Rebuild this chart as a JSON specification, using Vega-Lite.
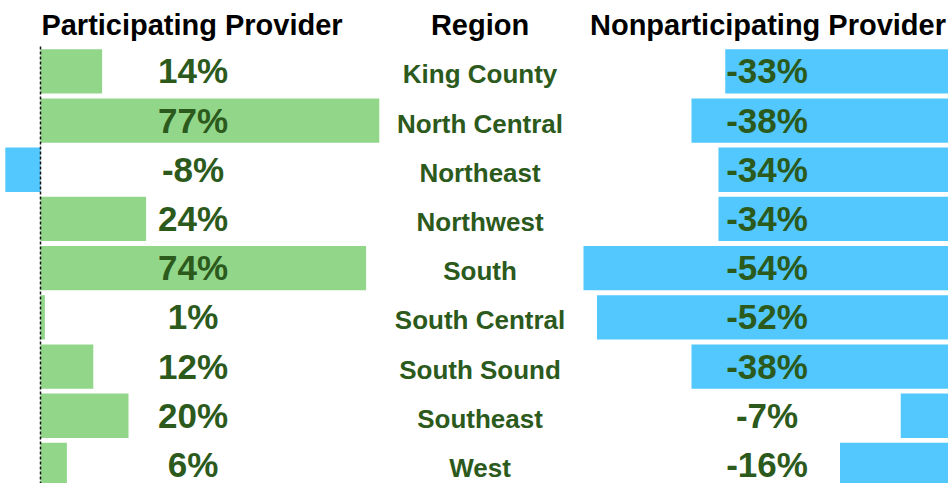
{
  "$schema": "https://vega.github.io/schema/vega-lite/v6.json",
  "width": 948,
  "height": {"step": 49.2},
  "padding": 0,
  "config": {
    "view": {"stroke": null},
    "locale": {"number": {"decimal": ".", "thousands": ",", "grouping": [3], "currency": ["$", ""], "minus": "-"}}
  },
  "data": {
    "values": [
      {"region": "King County", "part": 0.14, "nonpart": -0.33},
      {"region": "North Central", "part": 0.77, "nonpart": -0.38},
      {"region": "Northeast", "part": -0.08, "nonpart": -0.34},
      {"region": "Northwest", "part": 0.24, "nonpart": -0.34},
      {"region": "South", "part": 0.74, "nonpart": -0.54},
      {"region": "South Central", "part": 0.01, "nonpart": -0.52},
      {"region": "South Sound", "part": 0.12, "nonpart": -0.38},
      {"region": "Southeast", "part": 0.20, "nonpart": -0.07},
      {"region": "West", "part": 0.06, "nonpart": -0.16}
    ]
  },
  "encoding": {
    "y": {
      "field": "region",
      "type": "nominal",
      "scale": {
        "domain": ["Header", "King County", "North Central", "Northeast", "Northwest", "South", "South Central", "South Sound", "Southeast", "West"],
        "paddingInner": 0.1,
        "paddingOuter": 0
      },
      "axis": null
    }
  },
  "layer": [
    {
      "encoding": {
        "x": {"field": "part", "type": "quantitative", "scale": {"domain": [-0.092045, 2.0625], "nice": false, "zero": false}, "axis": null}
      },
      "layer": [
        {
          "mark": {"type": "bar"},
          "encoding": {
            "x2": {"datum": 0},
            "color": {
              "field": "part",
              "type": "quantitative",
              "scale": {"type": "threshold", "domain": [0], "range": ["#52c8fe", "#92d68a"]},
              "legend": null
            }
          }
        },
        {
          "mark": {"type": "rule", "strokeDash": [3, 2], "color": "#111111", "strokeWidth": 1.5},
          "data": {"values": [{"z": 0}]},
          "encoding": {
            "x": {"field": "z", "type": "quantitative"},
            "y": {"datum": "King County", "bandPosition": -0.06},
            "y2": {"datum": "West", "bandPosition": 1.0}
          }
        },
        {
          "mark": {"type": "text", "font": "Liberation Sans", "fontWeight": "bold", "fontSize": 35, "color": "#2b5a1c", "align": "center", "baseline": "alphabetic", "dy": 12},
          "encoding": {
            "x": {"datum": 0.3466},
            "text": {"field": "part", "type": "quantitative", "format": ".0%"}
          }
        },
        {
          "mark": {"type": "text", "font": "Liberation Sans", "fontWeight": "bold", "fontSize": 26, "color": "#2b5a1c", "align": "center", "baseline": "alphabetic", "dy": 12},
          "encoding": {
            "x": {"datum": 0.9989},
            "text": {"field": "region", "type": "nominal"}
          }
        },
        {
          "mark": {"type": "text", "font": "Liberation Sans", "fontWeight": "bold", "fontSize": 29, "color": "#000000", "align": "center", "baseline": "alphabetic", "dy": 13},
          "data": {"values": [{"h": "Participating Provider", "pos": 0.3443}, {"h": "Region", "pos": 0.9989}]},
          "encoding": {
            "x": {"field": "pos", "type": "quantitative"},
            "y": {"datum": "Header"},
            "text": {"field": "h", "type": "nominal"}
          }
        }
      ]
    },
    {
      "encoding": {
        "x": {"field": "nonpart", "type": "quantitative", "scale": {"domain": [-1.404444, 0], "nice": false, "zero": false}, "axis": null}
      },
      "layer": [
        {
          "mark": {"type": "bar", "color": "#52c8fe"},
          "encoding": {"x2": {"datum": 0}}
        },
        {
          "mark": {"type": "text", "font": "Liberation Sans", "fontWeight": "bold", "fontSize": 35, "color": "#2b5a1c", "align": "center", "baseline": "alphabetic", "dy": 12},
          "encoding": {
            "x": {"datum": -0.2681},
            "text": {"field": "nonpart", "type": "quantitative", "format": ".0%"}
          }
        },
        {
          "mark": {"type": "text", "font": "Liberation Sans", "fontWeight": "bold", "fontSize": 29, "color": "#000000", "align": "center", "baseline": "alphabetic", "dy": 13},
          "data": {"values": [{"h": "Nonparticipating Provider", "pos": -0.2667}]},
          "encoding": {
            "x": {"field": "pos", "type": "quantitative"},
            "y": {"datum": "Header"},
            "text": {"field": "h", "type": "nominal"}
          }
        }
      ]
    }
  ],
  "resolve": {"scale": {"x": "independent"}}
}
